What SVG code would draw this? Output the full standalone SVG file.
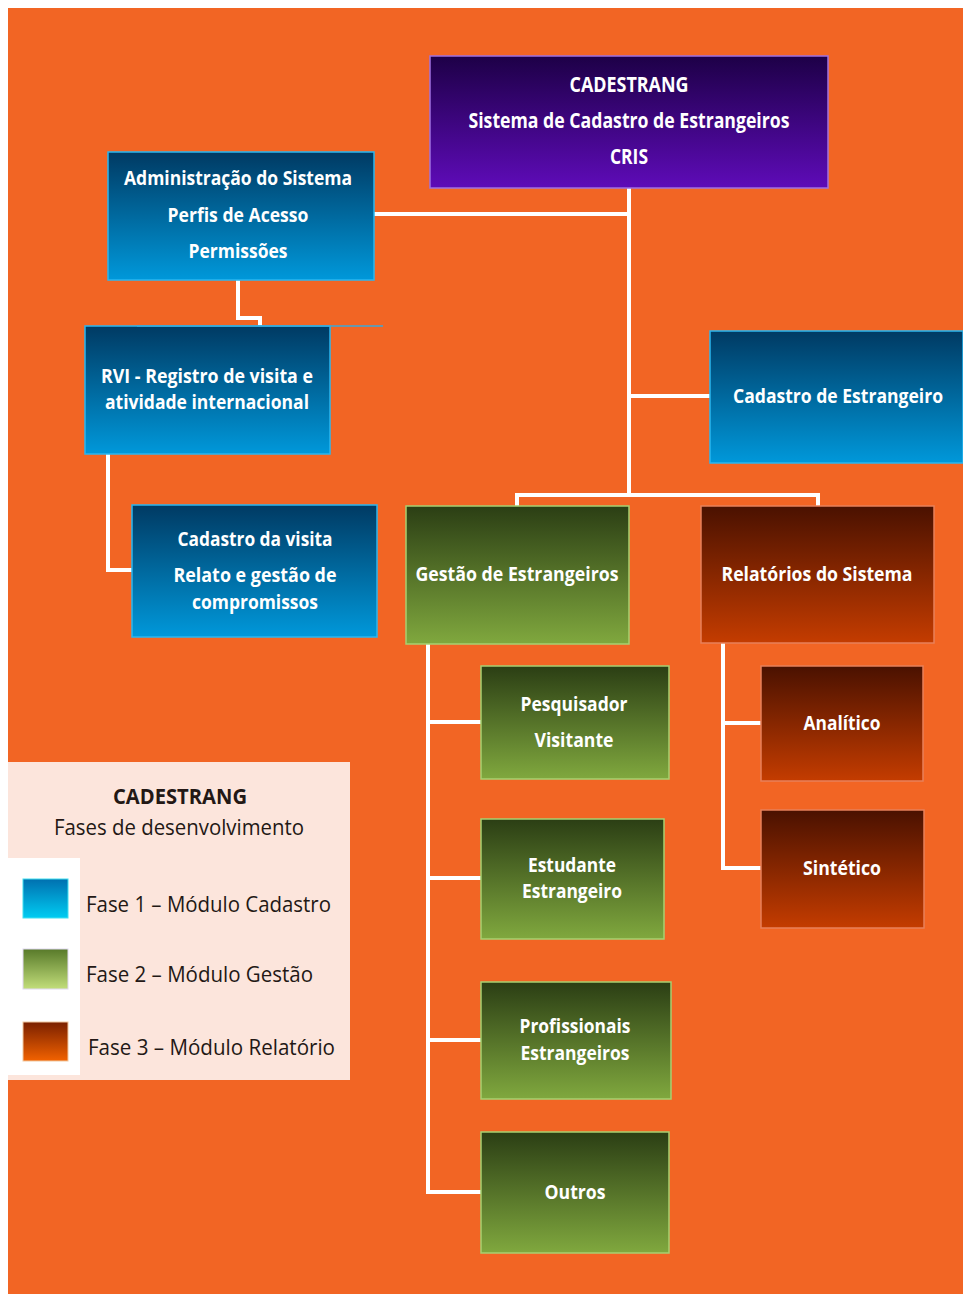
<svg xmlns="http://www.w3.org/2000/svg" width="963" height="1294" viewBox="0 0 963 1294">
<defs>
<linearGradient id="gBlue" x1="0" y1="0" x2="0" y2="1"><stop offset="0" stop-color="#003a63"/><stop offset="1" stop-color="#0098da"/></linearGradient>
<linearGradient id="gPurple" x1="0" y1="0" x2="0" y2="1"><stop offset="0" stop-color="#1d0047"/><stop offset="1" stop-color="#5e0bb8"/></linearGradient>
<linearGradient id="gGreen" x1="0" y1="0" x2="0" y2="1"><stop offset="0" stop-color="#2b3e14"/><stop offset="1" stop-color="#80a83e"/></linearGradient>
<linearGradient id="gBrown" x1="0" y1="0" x2="0" y2="1"><stop offset="0" stop-color="#4a1100"/><stop offset="1" stop-color="#c43c00"/></linearGradient>
<linearGradient id="sBlue" x1="0" y1="0" x2="0" y2="1"><stop offset="0" stop-color="#0070b0"/><stop offset="1" stop-color="#00ccf2"/></linearGradient>
<linearGradient id="sGreen" x1="0" y1="0" x2="0" y2="1"><stop offset="0" stop-color="#587a2a"/><stop offset="1" stop-color="#c2de7a"/></linearGradient>
<linearGradient id="sBrown" x1="0" y1="0" x2="0" y2="1"><stop offset="0" stop-color="#7a2000"/><stop offset="1" stop-color="#f26200"/></linearGradient>
</defs>
<style>
.t{font-family:"Open Sans","Liberation Sans",sans-serif;font-weight:bold;font-size:19.5px;fill:#ffffff;text-anchor:middle}
.big{font-size:20.5px}
.blue{fill:url(#gBlue);stroke:#2ab6ef;stroke-width:1.5}
.purple{fill:url(#gPurple);stroke:#a070e0;stroke-width:1.5}
.green{fill:url(#gGreen);stroke:#a8d070;stroke-width:1.5}
.brown{fill:url(#gBrown);stroke:#e8805a;stroke-width:1.5}
.c{fill:none;stroke:#ffffff;stroke-width:4}
.lg{font-family:"Open Sans","Liberation Sans",sans-serif;font-size:21px;fill:#231815}
</style>
<rect x="8" y="8" width="955" height="1286" fill="#f26524"/>
<g id="connectors">
<path class="c" d="M629 188 V495"/>
<path class="c" d="M374 214 H629"/>
<path class="c" d="M629 396 H710"/>
<path class="c" d="M517 506 V495 H818 V506"/>
<path class="c" d="M238 280 V318 H260 V326"/>
<path class="c" d="M108 454 V570 H132"/>
<path class="c" d="M428 644 V1192 H481"/>
<path class="c" d="M428 722 H481 M428 878 H481 M428 1040 H481"/>
<path class="c" d="M723 643 V868 H761 M723 723 H761"/>
</g>
<g id="n-cadestrang">
<rect class="purple" x="430" y="56" width="398" height="132"/>
<text class="t big" x="629" y="92" textLength="119" lengthAdjust="spacingAndGlyphs">CADESTRANG</text>
<text class="t big" x="629" y="128" textLength="321" lengthAdjust="spacingAndGlyphs">Sistema de Cadastro de Estrangeiros</text>
<text class="t big" x="629" y="164" textLength="38" lengthAdjust="spacingAndGlyphs">CRIS</text>
</g>
<g id="n-admin">
<rect class="blue" x="108" y="152" width="266" height="128"/>
<text class="t" x="238" y="185" textLength="228" lengthAdjust="spacingAndGlyphs">Administração do Sistema</text>
<text class="t" x="238" y="222" textLength="141" lengthAdjust="spacingAndGlyphs">Perfis de Acesso</text>
<text class="t" x="238" y="258" textLength="99" lengthAdjust="spacingAndGlyphs">Permissões</text>
</g>
<g id="n-rvi">
<rect class="blue" x="85" y="326" width="245" height="128"/>
<line x1="137" y1="326" x2="383" y2="326" stroke="#3aa8d8" stroke-width="1.5"/>
<text class="t" x="207" y="383" textLength="212" lengthAdjust="spacingAndGlyphs">RVI - Registro de visita e</text>
<text class="t" x="207" y="409" textLength="204" lengthAdjust="spacingAndGlyphs">atividade internacional</text>
</g>
<g id="n-visita">
<rect class="blue" x="132" y="505" width="245" height="132"/>
<text class="t" x="255" y="546" textLength="155" lengthAdjust="spacingAndGlyphs">Cadastro da visita</text>
<text class="t" x="255" y="582" textLength="163" lengthAdjust="spacingAndGlyphs">Relato e gestão de</text>
<text class="t" x="255" y="609" textLength="126" lengthAdjust="spacingAndGlyphs">compromissos</text>
</g>
<g id="n-cadastro-estrangeiro">
<rect class="blue" x="710" y="331" width="253" height="132"/>
<text class="t" x="838" y="403" textLength="210" lengthAdjust="spacingAndGlyphs">Cadastro de Estrangeiro</text>
</g>
<g id="n-gestao">
<rect class="green" x="406" y="506" width="223" height="138"/>
<text class="t" x="517" y="581" textLength="203" lengthAdjust="spacingAndGlyphs">Gestão de Estrangeiros</text>
</g>
<g id="n-relatorios">
<rect class="brown" x="701" y="506" width="233" height="137"/>
<text class="t" x="817" y="581" textLength="191" lengthAdjust="spacingAndGlyphs">Relatórios do Sistema</text>
</g>
<g id="n-pesquisador">
<rect class="green" x="481" y="666" width="188" height="113"/>
<text class="t" x="574" y="711" textLength="107" lengthAdjust="spacingAndGlyphs">Pesquisador</text>
<text class="t" x="574" y="747" textLength="79" lengthAdjust="spacingAndGlyphs">Visitante</text>
</g>
<g id="n-estudante">
<rect class="green" x="481" y="819" width="183" height="120"/>
<text class="t" x="572" y="872" textLength="88" lengthAdjust="spacingAndGlyphs">Estudante</text>
<text class="t" x="572" y="898" textLength="100" lengthAdjust="spacingAndGlyphs">Estrangeiro</text>
</g>
<g id="n-profissionais">
<rect class="green" x="481" y="982" width="190" height="117"/>
<text class="t" x="575" y="1033" textLength="111" lengthAdjust="spacingAndGlyphs">Profissionais</text>
<text class="t" x="575" y="1060" textLength="109" lengthAdjust="spacingAndGlyphs">Estrangeiros</text>
</g>
<g id="n-outros">
<rect class="green" x="481" y="1132" width="188" height="121"/>
<text class="t" x="575" y="1199" textLength="61" lengthAdjust="spacingAndGlyphs">Outros</text>
</g>
<g id="n-analitico">
<rect class="brown" x="761" y="666" width="162" height="115"/>
<text class="t" x="842" y="730" textLength="77" lengthAdjust="spacingAndGlyphs">Analítico</text>
</g>
<g id="n-sintetico">
<rect class="brown" x="761" y="810" width="163" height="118"/>
<text class="t" x="842" y="875" textLength="78" lengthAdjust="spacingAndGlyphs">Sintético</text>
</g>
<g id="legend">
<rect x="8" y="762" width="342" height="318" fill="#fce5dc"/>
<rect x="8" y="858" width="72" height="217" fill="#ffffff"/>
<text class="lg" x="180" y="804" font-weight="bold" font-size="20" text-anchor="middle" textLength="134" lengthAdjust="spacingAndGlyphs">CADESTRANG</text>
<text class="lg" x="179" y="835" font-size="20.5" text-anchor="middle" textLength="250" lengthAdjust="spacingAndGlyphs">Fases de desenvolvimento</text>
<rect x="23" y="879" width="45" height="39" fill="url(#sBlue)" stroke="#40e0f0" stroke-width="1"/>
<rect x="23" y="949" width="45" height="40" fill="url(#sGreen)" stroke="#e0d8f0" stroke-width="1"/>
<rect x="23" y="1022" width="45" height="39" fill="url(#sBrown)" stroke="#f0c8a0" stroke-width="1"/>
<text class="lg" x="86" y="912" textLength="245" lengthAdjust="spacingAndGlyphs">Fase 1 – Módulo Cadastro</text>
<text class="lg" x="86" y="982" textLength="227" lengthAdjust="spacingAndGlyphs">Fase 2 – Módulo Gestão</text>
<text class="lg" x="88" y="1055" textLength="247" lengthAdjust="spacingAndGlyphs">Fase 3 – Módulo Relatório</text>
</g>
</svg>
